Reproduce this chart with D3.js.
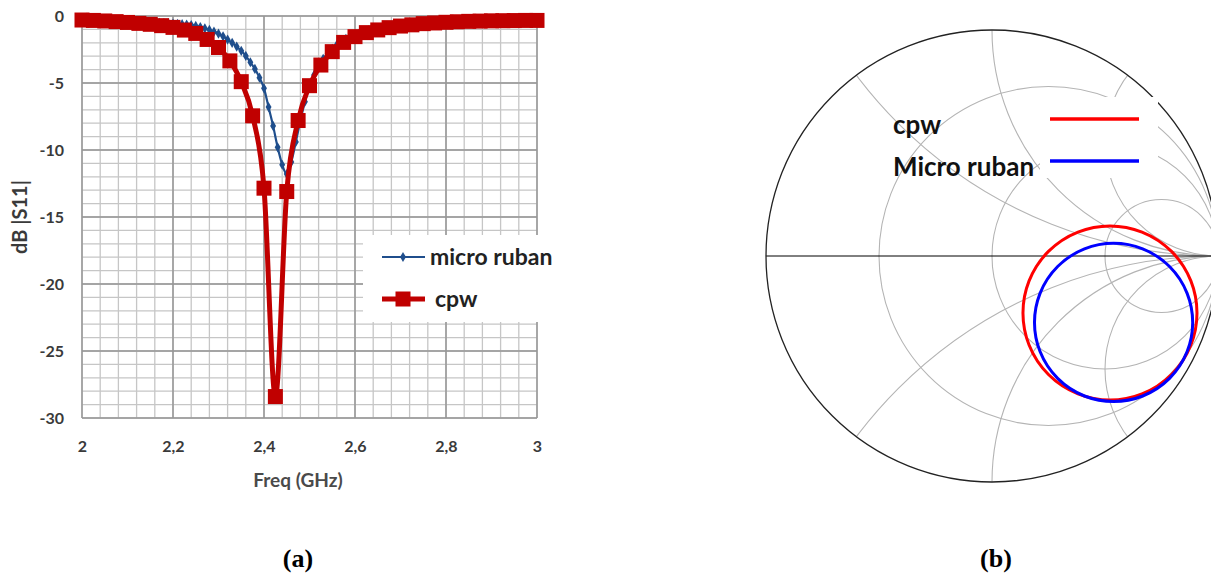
<!DOCTYPE html>
<html>
<head>
<meta charset="utf-8">
<script src="https://cdn.jsdelivr.net/npm/d3@7"></script>
<style>
  html, body { margin: 0; padding: 0; background: #fff; }
  svg { display: block; }
</style>
</head>
<body>
<svg id="chart" width="1211" height="577"></svg>
<script>
// ---------------- DATA ----------------
const freqTickValues = [2, 2.2, 2.4, 2.6, 2.8, 3];
const freqTickLabels = ["2", "2,2", "2,4", "2,6", "2,8", "3"];
const dbTickValues = [0, -5, -10, -15, -20, -25, -30];
const dbTickLabels = ["0", "-5", "-10", "-15", "-20", "-25", "-30"];

const cpwFreq = [2.000, 2.025, 2.050, 2.075, 2.100, 2.125, 2.150, 2.175, 2.200, 2.225,
                 2.250, 2.275, 2.300, 2.325, 2.350, 2.375, 2.400, 2.425, 2.450, 2.475,
                 2.500, 2.525, 2.550, 2.575, 2.600, 2.625, 2.650, 2.675, 2.700, 2.725,
                 2.750, 2.775, 2.800, 2.825, 2.850, 2.875, 2.900, 2.925, 2.950, 2.975, 3.000];
const cpwDb = [-0.30, -0.33, -0.37, -0.42, -0.48, -0.55, -0.62, -0.72, -0.85, -1.05,
               -1.30, -1.75, -2.35, -3.35, -4.90, -7.45, -12.85, -28.40, -13.10, -7.80,
               -5.20, -3.66, -2.66, -1.97, -1.54, -1.24, -1.04, -0.87, -0.75, -0.66,
               -0.57, -0.52, -0.47, -0.43, -0.40, -0.38, -0.36, -0.35, -0.34, -0.33, -0.33];

const microFreq = [2.00, 2.01, 2.02, 2.03, 2.04, 2.05, 2.06, 2.07, 2.08, 2.09,
                   2.10, 2.11, 2.12, 2.13, 2.14, 2.15, 2.16, 2.17, 2.18, 2.19,
                   2.20, 2.21, 2.22, 2.23, 2.24, 2.25, 2.26, 2.27, 2.28, 2.29,
                   2.30, 2.31, 2.32, 2.33, 2.34, 2.35, 2.36, 2.37, 2.38, 2.39,
                   2.40, 2.41, 2.42, 2.43, 2.44, 2.45, 2.46, 2.47, 2.48, 2.49,
                   2.50, 2.51, 2.52, 2.53, 2.54, 2.55, 2.56, 2.57, 2.58, 2.59,
                   2.60, 2.61, 2.62, 2.63, 2.64, 2.65, 2.66, 2.67, 2.68, 2.69,
                   2.70, 2.71, 2.72, 2.73, 2.74, 2.75, 2.76, 2.77, 2.78, 2.79,
                   2.80, 2.81, 2.82, 2.83, 2.84, 2.85, 2.86, 2.87, 2.88, 2.89,
                   2.90, 2.91, 2.92, 2.93, 2.94, 2.95, 2.96, 2.97, 2.98, 2.99, 3.00];
const microDb = [-0.30, -0.31, -0.32, -0.33, -0.34, -0.35, -0.36, -0.37, -0.38, -0.39,
                 -0.40, -0.41, -0.42, -0.44, -0.45, -0.47, -0.49, -0.51, -0.53, -0.55,
                 -0.57, -0.59, -0.61, -0.64, -0.68, -0.74, -0.82, -0.92, -1.04, -1.17,
                 -1.32, -1.52, -1.76, -2.00, -2.28, -2.60, -2.98, -3.45, -3.95, -4.60,
                 -5.40, -6.80, -8.20, -9.80, -11.10, -11.80, -10.90, -9.40, -7.80, -6.40,
                 -5.20, -4.40, -3.75, -3.20, -2.80, -2.45, -2.15, -1.90, -1.70, -1.53,
                 -1.38, -1.26, -1.16, -1.07, -0.99, -0.92, -0.86, -0.81, -0.76, -0.72,
                 -0.68, -0.65, -0.62, -0.59, -0.57, -0.55, -0.53, -0.51, -0.49, -0.47,
                 -0.46, -0.45, -0.44, -0.43, -0.42, -0.41, -0.40, -0.39, -0.38, -0.38,
                 -0.37, -0.37, -0.36, -0.36, -0.35, -0.35, -0.34, -0.34, -0.33, -0.33, -0.33];

// Smith chart grid values
const smithResistances = [1/3, 1, 3];
const smithReactances = [0.5, 1, 2, -0.5, -1, -2];
// Smith chart loci (reflection coefficient circles)
const smithTraceNames = ["cpw", "Micro ruban"];
const smithCenterRe = [0.522, 0.538];
const smithCenterIm = [-0.252, -0.294];
const smithRadius = [0.385, 0.350];
const smithColors = ["#ff0000", "#0000ff"];

// ---------------- CHART (a) ----------------
const svg = d3.select("#chart");
svg.append("rect").attr("width", 1211).attr("height", 577).attr("fill", "#fff");

const FONT = "Lato, 'Open Sans', sans-serif";
const x = d3.scaleLinear().domain([2, 3]).range([82, 537]);
const y = d3.scaleLinear().domain([-30, 0]).range([418, 16]);

const ga = svg.append("g");
const minorX = d3.range(0, 26).map(i => 2 + i * 0.04);
const minorY = d3.range(-30, 1);
ga.selectAll(".mx").data(minorX).join("line")
  .attr("x1", d => x(d)).attr("x2", d => x(d)).attr("y1", y(0)).attr("y2", y(-30))
  .attr("stroke", "#c6c6c6").attr("stroke-width", 1.3);
ga.selectAll(".my").data(minorY).join("line")
  .attr("x1", x(2)).attr("x2", x(3)).attr("y1", d => y(d)).attr("y2", d => y(d))
  .attr("stroke", "#c6c6c6").attr("stroke-width", 1.3);
ga.selectAll(".Mx").data(freqTickValues).join("line")
  .attr("x1", d => x(d)).attr("x2", d => x(d)).attr("y1", y(0)).attr("y2", y(-30))
  .attr("stroke", "#969696").attr("stroke-width", 1.5);
ga.selectAll(".My").data(dbTickValues).join("line")
  .attr("x1", x(2)).attr("x2", x(3)).attr("y1", d => y(d)).attr("y2", d => y(d))
  .attr("stroke", "#969696").attr("stroke-width", 1.5);

// axes
const yAxis = d3.axisLeft(y).tickValues(dbTickValues).tickSize(0).tickPadding(18)
  .tickFormat((d, i) => dbTickLabels[i]);
const xAxis = d3.axisBottom(x).tickValues(freqTickValues).tickSize(0).tickPadding(23)
  .tickFormat((d, i) => freqTickLabels[i]);
const yg = ga.append("g").attr("transform", `translate(${x(2)},0)`).call(yAxis);
const xg = ga.append("g").attr("transform", `translate(0,${y(-30)})`).call(xAxis);
[yg, xg].forEach(g => {
  g.select(".domain").remove();
  g.selectAll("text").attr("font-family", FONT).attr("font-weight", "bold")
    .attr("font-size", 16).attr("fill", "#3a3a3a");
});

ga.append("text").attr("x", 298).attr("y", 487).attr("text-anchor", "middle")
  .attr("font-family", FONT).attr("font-weight", "bold").attr("font-size", 19).attr("fill", "#4a4a4a")
  .text("Freq (GHz)");
ga.append("text").attr("transform", "translate(27,217) rotate(-90)")
  .attr("text-anchor", "middle").attr("font-family", FONT).attr("font-weight", "bold")
  .attr("font-size", 20).attr("fill", "#3a3a3a").text("dB |S11|");

// series
const microData = microFreq.map((f, i) => [f, microDb[i]]);
const cpwData = cpwFreq.map((f, i) => [f, cpwDb[i]]);
const line = d3.line().x(d => x(d[0])).y(d => y(d[1])).curve(d3.curveMonotoneX);

const BLUE = "#1f4e8c", RED = "#c00000";
ga.append("path").attr("d", line(microData)).attr("fill", "none")
  .attr("stroke", BLUE).attr("stroke-width", 2.2);
const star = d3.symbol().type(d3.symbolDiamond).size(30);
ga.selectAll(".mm").data(microData).join("path")
  .attr("d", star).attr("transform", d => `translate(${x(d[0])},${y(d[1])})`)
  .attr("fill", BLUE);

ga.append("path").attr("d", line(cpwData)).attr("fill", "none")
  .attr("stroke", RED).attr("stroke-width", 5);
ga.selectAll(".cm").data(cpwData).join("rect")
  .attr("x", d => x(d[0]) - 7.5).attr("y", d => y(d[1]) - 7.5)
  .attr("width", 15).attr("height", 15).attr("fill", RED);

// legend (a)
const lg = ga.append("g");
lg.append("rect").attr("x", 363).attr("y", 235).attr("width", 196).attr("height", 87).attr("fill", "#fff");
lg.append("line").attr("x1", 382).attr("x2", 425).attr("y1", 257).attr("y2", 257)
  .attr("stroke", BLUE).attr("stroke-width", 2.2);
lg.append("path").attr("d", star).attr("transform", "translate(403,257)").attr("fill", BLUE);
lg.append("text").attr("x", 430).attr("y", 265).attr("font-family", FONT).attr("font-weight", "bold")
  .attr("font-size", 23).attr("fill", "#222").text("micro ruban");
lg.append("line").attr("x1", 382).attr("x2", 425).attr("y1", 299).attr("y2", 299)
  .attr("stroke", RED).attr("stroke-width", 5);
lg.append("rect").attr("x", 395.5).attr("y", 291.5).attr("width", 15).attr("height", 15).attr("fill", RED);
lg.append("text").attr("x", 435).attr("y", 307).attr("font-family", FONT).attr("font-weight", "bold")
  .attr("font-size", 23).attr("fill", "#222").text("cpw");

// ---------------- CHART (b) SMITH ----------------
const cx = 992, cy = 256, R = 226;
const gx = d3.scaleLinear().domain([-1, 1]).range([cx - R, cx + R]);
const gy = d3.scaleLinear().domain([-1, 1]).range([cy + R, cy - R]);
const rad = v => gx(v) - gx(0);

const gb = svg.append("g");
svg.append("defs").append("clipPath").attr("id", "unit")
  .append("circle").attr("cx", cx).attr("cy", cy).attr("r", R);
const grid = gb.append("g").attr("clip-path", "url(#unit)");
grid.selectAll(".rc").data(smithResistances).join("circle")
  .attr("cx", r => gx(r / (r + 1))).attr("cy", gy(0)).attr("r", r => rad(1 / (r + 1)))
  .attr("fill", "none").attr("stroke", "#b4b4b4").attr("stroke-width", 1.1);
grid.selectAll(".xc").data(smithReactances).join("circle")
  .attr("cx", gx(1)).attr("cy", v => gy(1 / v)).attr("r", v => rad(1 / Math.abs(v)))
  .attr("fill", "none").attr("stroke", "#b4b4b4").attr("stroke-width", 1.1);
gb.append("line").attr("x1", gx(-1)).attr("x2", gx(1)).attr("y1", gy(0)).attr("y2", gy(0))
  .attr("stroke", "#000").attr("stroke-width", 1);
gb.append("circle").attr("cx", gx(0)).attr("cy", gy(0)).attr("r", R)
  .attr("fill", "none").attr("stroke", "#222").attr("stroke-width", 1.3);

// legend box background (covers part of the grid)
gb.append("rect").attr("x", 1040).attr("y", 97).attr("width", 118).attr("height", 81).attr("fill", "#fff");

// traces
gb.selectAll(".tr").data(smithTraceNames).join("circle")
  .attr("cx", (d, i) => gx(smithCenterRe[i])).attr("cy", (d, i) => gy(smithCenterIm[i]))
  .attr("r", (d, i) => rad(smithRadius[i]))
  .attr("fill", "none").attr("stroke", (d, i) => smithColors[i]).attr("stroke-width", 3);

// legend (b)
const lb = gb.append("g");
smithTraceNames.forEach((n, i) => {
  const yy = 119 + i * 42;
  lb.append("text").attr("x", 893).attr("y", yy + 15).attr("font-family", FONT)
    .attr("font-weight", "bold").attr("font-size", 26).attr("fill", "#111").text(n);
  lb.append("line").attr("x1", 1050).attr("x2", 1139).attr("y1", yy).attr("y2", yy)
    .attr("stroke", smithColors[i]).attr("stroke-width", 3.5);
});

// captions
svg.append("text").attr("x", 298).attr("y", 567).attr("text-anchor", "middle")
  .attr("font-family", "'Liberation Serif', 'DejaVu Serif', serif").attr("font-weight", "bold")
  .attr("font-size", 26).attr("fill", "#000").text("(a)");
svg.append("text").attr("x", 996).attr("y", 567).attr("text-anchor", "middle")
  .attr("font-family", "'Liberation Serif', 'DejaVu Serif', serif").attr("font-weight", "bold")
  .attr("font-size", 26).attr("fill", "#000").text("(b)");
</script>
</body>
</html>
